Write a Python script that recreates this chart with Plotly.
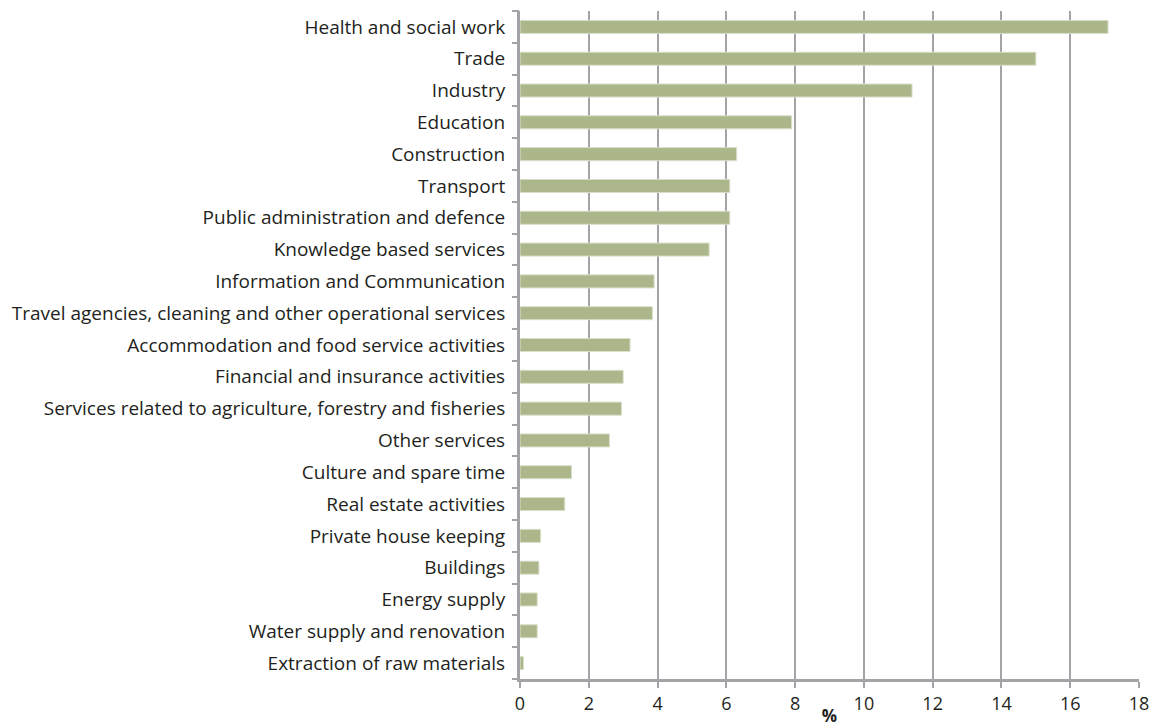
import plotly.graph_objects as go

# Share of employment by sector (%)
sectors = [
    "Health and social work",
    "Trade",
    "Industry",
    "Education",
    "Construction",
    "Transport",
    "Public administration and defence",
    "Knowledge based services",
    "Information and Communication",
    "Travel agencies, cleaning and other operational services",
    "Accommodation and food service activities",
    "Financial and insurance activities",
    "Services related to agriculture, forestry and fisheries",
    "Other services",
    "Culture and spare time",
    "Real estate activities",
    "Private house keeping",
    "Buildings",
    "Energy supply",
    "Water supply and renovation",
    "Extraction of raw materials",
]
shares = [17.1, 15.0, 11.4, 7.9, 6.3, 6.1, 6.1, 5.5, 3.9, 3.85, 3.2, 3.0, 2.95,
          2.6, 1.5, 1.3, 0.6, 0.55, 0.5, 0.5, 0.1]
x_ticks = [0, 2, 4, 6, 8, 10, 12, 14, 16, 18]

BAR = "#abb78b"
GRID = "#a3a3a8"
TEXT = "#231f20"
FONT = "Open Sans"

n = len(sectors)
# category boundaries, where the left-axis tick marks sit
boundaries = [i - 0.5 for i in range(n + 1)]

fig = go.Figure()
fig.add_trace(
    go.Bar(
        x=shares,
        y=sectors,
        orientation="h",
        marker=dict(color=BAR, line=dict(color="#d9dfc9", width=1)),
    )
)
# invisible helper trace so the boundary-tick axis is rendered
fig.add_trace(
    go.Scatter(x=[0], y=[0], yaxis="y2", mode="markers",
               marker=dict(opacity=0), hoverinfo="skip", showlegend=False)
)

fig.update_layout(
    width=1154,
    height=727,
    margin=dict(l=520, r=15, t=11, b=48, autoexpand=False),
    paper_bgcolor="white",
    plot_bgcolor="white",
    bargap=0.59,
    showlegend=False,
    font=dict(family=FONT, size=18, color=TEXT),
    xaxis=dict(
        range=[0, 18],
        tickvals=x_ticks,
        showgrid=True,
        gridcolor=GRID,
        gridwidth=2,
        showline=True,
        linecolor=GRID,
        linewidth=3,
        ticks="outside",
        ticklen=6,
        tickwidth=2,
        tickcolor=GRID,
        zeroline=False,
        tickfont=dict(family=FONT, size=18, color=TEXT),
        title=dict(text="<b>%</b>", font=dict(family=FONT, size=17, color=TEXT), standoff=1),
    ),
    yaxis=dict(
        type="category",
        categoryorder="array",
        categoryarray=sectors,
        range=[n - 0.5, -0.5],
        showgrid=False,
        showline=True,
        linecolor=GRID,
        linewidth=3,
        ticks="",
        ticklabelstandoff=8,
        tickfont=dict(family=FONT, size=19, color=TEXT),
    ),
    yaxis2=dict(
        overlaying="y",
        side="left",
        range=[n - 0.5, -0.5],
        tickvals=boundaries,
        showticklabels=False,
        showgrid=False,
        zeroline=False,
        showline=False,
        ticks="outside",
        ticklen=7,
        tickwidth=2,
        tickcolor=GRID,
    ),
)

fig.write_html("out.html")
